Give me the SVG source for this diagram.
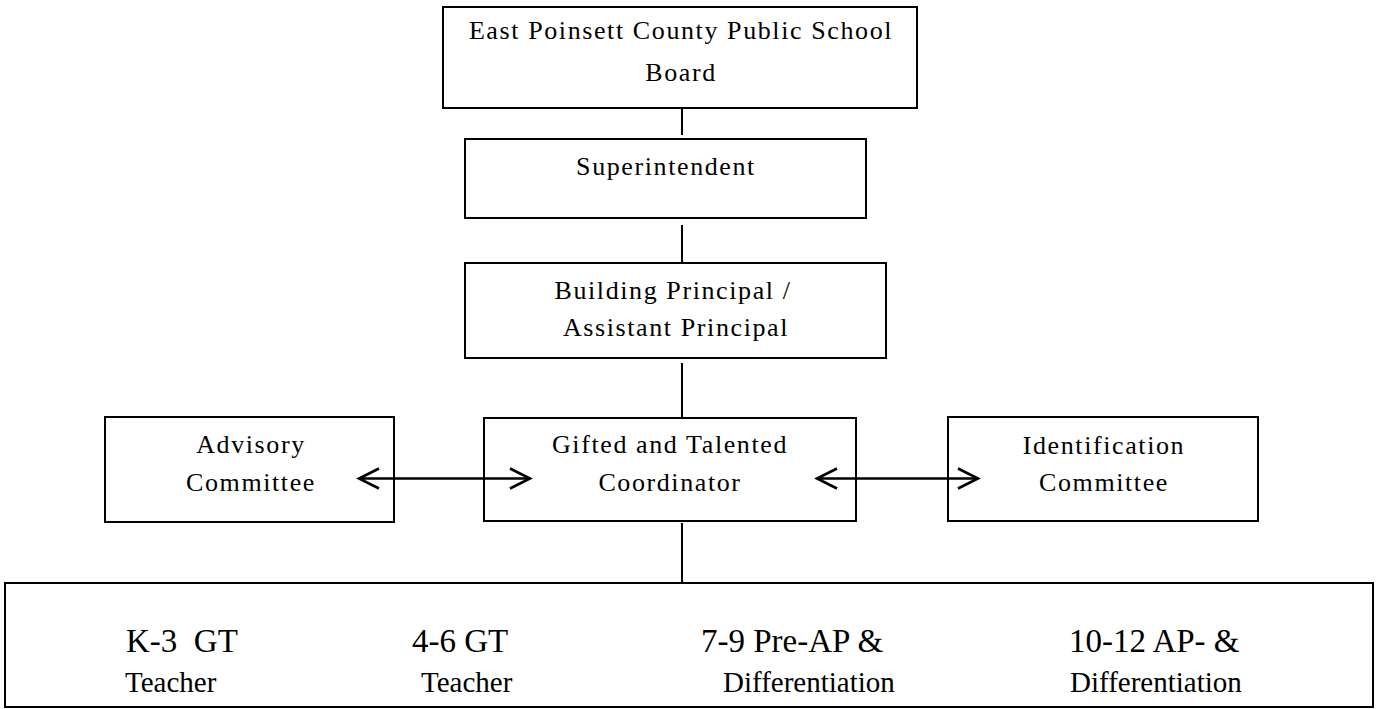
<svg xmlns="http://www.w3.org/2000/svg" width="1380" height="709" viewBox="0 0 1380 709">
  <style>
    .box { fill: none; stroke: #000000; stroke-width: 2; }
    .link { stroke: #000000; stroke-width: 2; fill: none; }
    .arrow { stroke: #000000; stroke-width: 2.5; fill: none; }
    .lbl { font-size: 26px; letter-spacing: 1.6px; fill: #000000; text-anchor: middle; }
    .grade { font-size: 33px; fill: #000000; }
    .role { font-size: 29px; fill: #000000; }
  </style>
  <defs>
    <!-- open chevron heads, one per direction -->
    <marker id="head-left" viewBox="-4 -14 28 28" refX="0" refY="0" markerWidth="28" markerHeight="28" markerUnits="userSpaceOnUse" orient="0">
      <path d="M 20 -10 L 0 0 L 20 10" fill="none" stroke="#000000" stroke-width="2.6"/>
    </marker>
    <marker id="head-right" viewBox="-24 -14 28 28" refX="0" refY="0" markerWidth="28" markerHeight="28" markerUnits="userSpaceOnUse" orient="0">
      <path d="M -20 -10 L 0 0 L -20 10" fill="none" stroke="#000000" stroke-width="2.6"/>
    </marker>
  </defs>

  <rect width="1380" height="709" fill="#ffffff"/>

  <g font-family="'Liberation Serif', 'Times New Roman', serif">
    <g id="school-board">
      <rect class="box" x="443" y="7" width="474" height="101"/>
      <text class="lbl" x="681" y="39">East Poinsett County Public School</text>
      <text class="lbl" x="681" y="81">Board</text>
    </g>

    <g id="superintendent">
      <rect class="box" x="465" y="139" width="401" height="79"/>
      <text class="lbl" x="666" y="175">Superintendent</text>
    </g>

    <g id="principal">
      <rect class="box" x="465" y="263" width="421" height="95"/>
      <text class="lbl" x="673" y="299">Building Principal /</text>
      <text class="lbl" x="676" y="336">Assistant Principal</text>
    </g>

    <g id="advisory-committee">
      <rect class="box" x="105" y="417" width="289" height="105"/>
      <text class="lbl" x="251" y="453">Advisory</text>
      <text class="lbl" x="251" y="491">Committee</text>
    </g>

    <g id="gt-coordinator">
      <rect class="box" x="484" y="418" width="372" height="103"/>
      <text class="lbl" x="670" y="453">Gifted and Talented</text>
      <text class="lbl" x="670" y="491">Coordinator</text>
    </g>

    <g id="identification-committee">
      <rect class="box" x="948" y="417" width="310" height="104"/>
      <text class="lbl" x="1104" y="454">Identification</text>
      <text class="lbl" x="1104" y="491">Committee</text>
    </g>

    <g id="teachers">
      <rect class="box" x="5" y="583" width="1368" height="124"/>
      <text class="grade" x="126" y="652" xml:space="preserve">K-3  GT</text>
      <text class="role" x="125" y="692">Teacher</text>
      <text class="grade" x="412" y="652">4-6 GT</text>
      <text class="role" x="421" y="692">Teacher</text>
      <text class="grade" x="701" y="652">7-9 Pre-AP &amp;</text>
      <text class="role" x="723" y="692">Differentiation</text>
      <text class="grade" x="1069" y="652">10-12 AP- &amp;</text>
      <text class="role" x="1070" y="692">Differentiation</text>
    </g>
  </g>

  <!-- connectors, drawn over the boxes so the arrows cross their borders -->
  <g id="connectors">
    <line class="link" x1="682" y1="108" x2="682" y2="135"/>
    <line class="link" x1="682" y1="225" x2="682" y2="262"/>
    <line class="link" x1="682" y1="363" x2="682" y2="418"/>
    <line class="link" x1="682" y1="523" x2="682" y2="583"/>
    <line class="arrow" x1="359" y1="478.5" x2="530" y2="478.5" marker-start="url(#head-left)" marker-end="url(#head-right)"/>
    <line class="arrow" x1="817" y1="478.5" x2="978" y2="478.5" marker-start="url(#head-left)" marker-end="url(#head-right)"/>
  </g>
</svg>
